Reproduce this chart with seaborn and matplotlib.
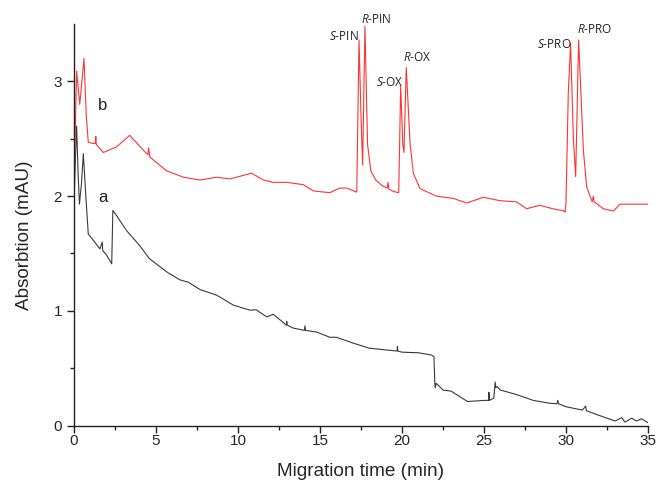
import pandas as pd
import matplotlib.pyplot as plt
import seaborn as sns

# trace a (black, lower)
time_a = [0.0, 0.08, 0.16, 0.25, 0.33, 0.45, 0.57, 0.7, 0.87, 1.18, 1.58, 1.72, 1.75, 1.78,
          1.99, 2.3, 2.37, 2.5, 3.2, 4.0, 4.6, 5.65, 6.46, 6.97, 7.68, 8.7, 9.72, 10.73,
          11.1, 11.75, 12.15, 12.95, 12.97, 13.0, 13.37, 14.05, 14.08, 14.12, 14.8, 15.6,
          16.0, 17.0, 18.0, 19.0, 19.7, 19.72, 19.75, 20.0, 21.0, 21.8, 21.95, 22.0, 22.03,
          22.08, 22.5, 23.0, 24.0, 25.0, 25.28, 25.3, 25.33, 25.6, 25.68, 25.72, 25.8, 26.0,
          27.0, 28.0, 29.0, 29.45, 29.5, 29.55, 30.0, 31.0, 31.2, 31.25, 32.0, 33.0, 33.4,
          33.6, 34.0, 34.3, 34.6, 35.0]
absorb_a = [1.95, 2.3, 2.61, 2.2, 1.93, 2.1, 2.37, 2.05, 1.67, 1.615, 1.54, 1.6, 1.53, 1.52,
            1.485, 1.41, 1.876, 1.85, 1.70, 1.57, 1.455, 1.34, 1.27, 1.25, 1.186, 1.137, 1.05,
            1.006, 1.01, 0.948, 0.97, 0.876, 0.91, 0.876, 0.85, 0.83, 0.87, 0.83, 0.815, 0.77,
            0.77, 0.72, 0.675, 0.66, 0.65, 0.69, 0.65, 0.64, 0.635, 0.615, 0.60, 0.37, 0.33,
            0.37, 0.31, 0.30, 0.21, 0.22, 0.22, 0.29, 0.22, 0.24, 0.38, 0.33, 0.34, 0.31,
            0.27, 0.22, 0.195, 0.19, 0.22, 0.19, 0.165, 0.135, 0.17, 0.13, 0.09, 0.04, 0.07,
            0.03, 0.065, 0.04, 0.06, 0.025]

# trace b (red, upper)
time_b = [0.0, 0.08, 0.16, 0.25, 0.35, 0.45, 0.61, 0.75, 0.87, 1.1, 1.3, 1.33, 1.36, 1.79,
          2.6, 3.4, 4.23, 4.5, 4.55, 4.63, 5.65, 6.67, 7.68, 8.7, 9.51, 10.83, 11.55,
          12.15, 12.97, 13.98, 14.6, 15.6, 16.2, 16.63, 17.24, 17.3, 17.38, 17.5, 17.6,
          17.74, 17.9, 18.1, 18.4, 18.8, 19.1, 19.15, 19.2, 19.5, 19.8, 19.92, 20.05,
          20.12, 20.26, 20.49, 20.69, 21.1, 22.1, 23.13, 23.94, 24.96, 25.98, 26.99, 27.6,
          28.4, 29.2, 29.9, 29.94, 30.0, 30.14, 30.28, 30.45, 30.59, 30.77, 31.06, 31.26,
          31.6, 31.67, 31.72, 32.28, 32.89, 33.3, 34.3, 35.0]
absorb_b = [2.0, 2.6, 3.09, 2.95, 2.80, 2.95, 3.2, 2.7, 2.47, 2.46, 2.46, 2.52, 2.45, 2.38,
            2.43, 2.53, 2.40, 2.36, 2.42, 2.34, 2.22, 2.165, 2.14, 2.165, 2.15, 2.20, 2.14,
            2.12, 2.12, 2.10, 2.045, 2.03, 2.07, 2.07, 2.035, 2.6, 3.36, 2.7, 2.27, 3.48,
            2.45, 2.22, 2.14, 2.09, 2.07, 2.12, 2.06, 2.04, 2.03, 2.96, 2.45, 2.38, 3.12,
            2.46, 2.2, 2.065, 2.0, 1.98, 1.94, 1.99, 1.96, 1.95, 1.89, 1.92, 1.89, 1.87, 1.86,
            1.94, 2.9, 3.33, 2.5, 2.17, 3.36, 2.40, 2.08, 1.95, 2.0, 1.95, 1.89, 1.87, 1.93,
            1.93, 1.93]

peak_labels = ['S', 'R', 'S', 'R', 'S', 'R']
peak_names = ['PIN', 'PIN', 'OX', 'OX', 'PRO', 'PRO']
label_x = [16.48, 18.41, 19.27, 20.9, 29.27, 31.73]
label_y = [3.39, 3.54, 2.99, 3.21, 3.32, 3.45]

df_a = pd.DataFrame({'time': time_a, 'absorb': absorb_a})
df_b = pd.DataFrame({'time': time_b, 'absorb': absorb_b})

sns.set_style('ticks')
plt.rcParams['font.family'] = ['Liberation Sans', 'DejaVu Sans']
plt.rcParams['mathtext.fontset'] = 'custom'
plt.rcParams['mathtext.it'] = 'Open Sans:italic'
plt.rcParams['mathtext.rm'] = 'Open Sans'

fig = plt.figure(figsize=(6.56, 4.83), dpi=100)
ax = fig.add_axes([0.1128, 0.1188, 0.875, 0.8315])

sns.lineplot(x='time', y='absorb', data=df_a, ax=ax, color='#3a3a3a', linewidth=0.8)
sns.lineplot(x='time', y='absorb', data=df_b, ax=ax, color='#ff3333', linewidth=0.8)

ax.set_xlim(0, 35)
ax.set_ylim(0, 3.5)
ax.set_xticks([0, 5, 10, 15, 20, 25, 30, 35])
ax.set_xticks([2.5, 7.5, 12.5, 17.5, 22.5, 27.5, 32.5], minor=True)
ax.set_yticks([0, 1, 2, 3])
ax.set_yticks([0.5, 1.5, 2.5], minor=True)
ax.tick_params(which='major', length=5, width=1, labelsize=11, color='#222222')
ax.tick_params(which='minor', length=3, width=1, color='#222222')
ax.tick_params(axis='x', pad=1)
ax.tick_params(axis='y', pad=3.5)
sns.despine(ax=ax)
for s in ['left', 'bottom']:
    ax.spines[s].set_linewidth(1.0)
    ax.spines[s].set_color('#222222')

ax.set_xlabel('Migration time (min)', fontsize=13.7)
ax.set_ylabel('Absorbtion (mAU)', fontsize=13.6)
ax.xaxis.set_label_coords(0.5, -0.093)
ax.yaxis.set_label_coords(-0.071, 0.475)

ax.text(1.77, 2.79, 'b', fontsize=12, ha='center', va='center', color='#222222')
ax.text(1.77, 1.99, 'a', fontsize=12, ha='center', va='center', color='#222222')

for stereo, name, lx, ly in zip(peak_labels, peak_names, label_x, label_y):
    ax.text(lx, ly, '$\\mathit{' + stereo + '}$-' + name, fontsize=8.5, ha='center',
            va='center', color='#222222', family='Open Sans', clip_on=False)

fig.savefig('out.png', dpi=100)
